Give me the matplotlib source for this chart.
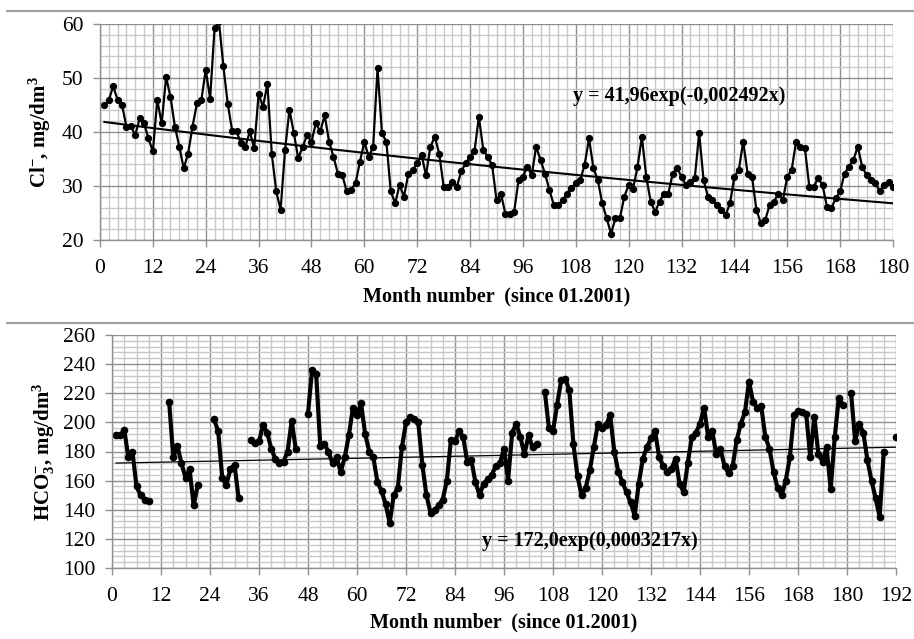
import numpy as np
import matplotlib
matplotlib.use('Agg')
import matplotlib.pyplot as plt
from matplotlib.lines import Line2D
from matplotlib.ticker import MultipleLocator

plt.rcParams['font.family'] = ['Liberation Serif', 'DejaVu Serif']
plt.rcParams['mathtext.fontset'] = 'custom'
plt.rcParams['mathtext.rm'] = 'Liberation Serif:bold'
plt.rcParams['mathtext.it'] = 'Liberation Serif:bold:italic'
plt.rcParams['mathtext.bf'] = 'Liberation Serif:bold'

# monthly chloride, months 1..180
cl_values = [
    45.0, 45.9, 48.5, 45.9, 45.0, 41.0, 41.1, 39.4, 42.5, 41.6,
    38.8, 36.4, 45.9, 41.6, 50.2, 46.5, 41.0, 37.3, 33.3, 36.0,
    41.0, 45.3, 45.9, 51.5, 46.2, 59.2, 60.5, 52.2, 45.2, 40.2,
    40.1, 37.9, 37.3, 40.1, 37.0, 47.0, 44.7, 48.9, 35.9, 29.0,
    25.6, 36.7, 44.1, 39.8, 35.1, 37.3, 39.4, 38.2, 41.6, 40.1,
    43.1, 38.2, 35.4, 32.3, 32.0, 29.0, 29.3, 30.5, 34.5, 38.2,
    35.4, 37.3, 51.8, 39.8, 38.2, 29.0, 26.8, 30.2, 28.0, 32.3,
    33.0, 34.2, 35.7, 32.0, 37.3, 39.1, 36.0, 29.9, 29.9, 30.8,
    29.9, 32.7, 34.2, 35.4, 36.4, 42.8, 36.7, 35.4, 33.9, 27.4,
    28.6, 24.9, 24.9, 25.2, 31.1, 31.7, 33.6, 32.0, 37.3, 34.8,
    32.3, 29.3, 26.5, 26.5, 27.4, 28.6, 29.6, 30.5, 31.1, 33.9,
    38.8, 33.3, 31.1, 26.8, 24.0, 21.2, 24.0, 24.0, 28.0, 30.2,
    29.5, 33.5, 39.1, 31.7, 27.1, 25.2, 27.1, 28.6, 28.6, 32.3,
    33.3, 31.7, 30.2, 30.8, 31.4, 39.8, 31.1, 28.0, 27.5, 26.5,
    25.6, 24.6, 26.8, 31.7, 33.0, 38.2, 32.3, 31.7, 25.6, 23.1,
    23.7, 26.5, 27.1, 28.6, 27.4, 31.7, 33.0, 38.2, 37.3, 37.0,
    29.9, 29.9, 31.4, 30.2, 26.2, 25.9, 27.7, 29.0, 32.3, 33.6,
    34.8, 37.3, 33.6, 32.0, 31.1, 30.5, 29.0, 30.2, 30.8, 29.9,
]
cl_months = np.arange(1, len(cl_values) + 1)

# monthly bicarbonate, months 1..192 (None = no sample)
hco3_values = [
    191, 191, 195, 176, 180, 156, 150, 147, 146, None,
    None, None, None, 214, 176, 184, 172, 162, 168, 143,
    157, None, None, None, 202, 194, 162, 157, 168, 171,
    148, None, None, 188, 186, 187, 198, 193, 182, 175,
    172, 173, 180, 201, 182, None, None, 206, 236, 233,
    184, 185, 180, 172, 176, 166, 176, 191, 210, 205,
    213, 192, 180, 176, 159, 153, 144, 131, 150, 155,
    183, 200, 204, 202, 200, 171, 150, 138, 140, 143,
    147, 160, 188, 187, 194, 190, 173, 174, 159, 150,
    158, 161, 164, 170, 172, 182, 160, 193, 199, 190,
    178, 191, 183, 185, None, 221, 196, 194, 212, 229,
    230, 222, 185, 163, 150, 155, 167, 183, 199, 196,
    198, 205, 180, 166, 159, 152, 145, 136, 158, 175,
    183, 189, 194, 176, 170, 166, 168, 175, 158, 152,
    172, 190, 193, 199, 210, 190, 194, 178, 182, 170,
    165, 170, 188, 199, 207, 228, 214, 210, 211, 190,
    182, 166, 155, 150, 160, 176, 205, 208, 207, 206,
    176, 204, 178, 173, 183, 154, 190, 217, 212, None,
    220, 187, 199, 193, 174, 160, 148, 135, 180, None,
    None, 190,
]
hco3_months = np.arange(1, len(hco3_values) + 1)
hco3_arr = np.array([np.nan if v is None else v for v in hco3_values], dtype=float)

# exponential trend lines as printed on the chart
cl_a, cl_b = 41.96, -0.002492
hco3_a, hco3_b = 172.0, 0.0003217

major_col = '#8f8f8f'
minor_col = '#c9c9c9'


def style_axes(ax, xmax, xminor, ymin, ymax, ymajor, yminor):
    ax.set_xlim(0, xmax)
    ax.set_ylim(ymin, ymax)
    ax.xaxis.set_major_locator(MultipleLocator(12))
    ax.xaxis.set_minor_locator(MultipleLocator(xminor))
    ax.yaxis.set_major_locator(MultipleLocator(ymajor))
    ax.yaxis.set_minor_locator(MultipleLocator(yminor))
    ax.grid(which='major', color=major_col, lw=1.0)
    ax.grid(which='minor', color=minor_col, lw=1.0)
    ax.set_axisbelow(True)
    for s in ax.spines.values():
        s.set_color(major_col)
        s.set_linewidth(1.0)
    ax.spines['top'].set_visible(False)
    ax.spines['right'].set_visible(False)
    ax.tick_params(which='major', length=5, width=1.0, color=major_col,
                   labelsize=15.5)
    ax.tick_params(axis='x', which='major', pad=9)
    ax.tick_params(axis='y', which='major', pad=7)
    ax.tick_params(which='minor', length=0)


fig = plt.figure(figsize=(9.14, 6.39), dpi=100)

# top panel: chloride
ax1 = fig.add_axes([100 / 914, 1 - 240 / 639, 793 / 914, 216 / 639])
style_axes(ax1, 180, 2, 20, 60, 10, 2)
ax1.plot(cl_months, cl_values, color='black', lw=1.6, marker='o', ms=4.2)
t1 = np.linspace(1, 180, 200)
ax1.plot(t1, cl_a * np.exp(cl_b * t1), color='black', lw=1.5)
ax1.text(131.5, 46.6, 'y = 41,96exp(-0,002492x)', fontsize=14.5,
         fontweight='bold', ha='center', va='center')
ax1.set_xlabel('Month number  (since 01.2001)', fontsize=14.5,
               fontweight='bold', labelpad=6)
ax1.set_ylabel(r'Cl$^{-}$, mg/dm$^{3}$', fontsize=15, fontweight='bold',
               labelpad=6)

# bottom panel: bicarbonate
ax2 = fig.add_axes([112 / 914, 1 - 568 / 639, 784 / 914, 233 / 639])
style_axes(ax2, 192, 3, 100, 260, 20, 4)
ax2.plot(hco3_months, hco3_arr, color='black', lw=3.0, marker='o', ms=4.5)
t2 = np.linspace(1, 192, 200)
ax2.plot(t2, hco3_a * np.exp(hco3_b * t2), color='black', lw=0.9)
ax2.text(117, 118.5, 'y = 172,0exp(0,0003217x)', fontsize=14.5,
         fontweight='bold', ha='center', va='center')
ax2.set_xlabel('Month number  (since 01.2001)', fontsize=14.5,
               fontweight='bold', labelpad=4)
ax2.set_ylabel(r'HCO$_{3}^{-}$, mg/dm$^{3}$', fontsize=15,
               fontweight='bold', labelpad=4)

# chart frame edges
for yy in (11, 323):
    fig.add_artist(Line2D([7 / 914, 1.0], [1 - yy / 639, 1 - yy / 639],
                          color='#a0a0a0', lw=1.5))

fig.savefig('out.png', dpi=100)
